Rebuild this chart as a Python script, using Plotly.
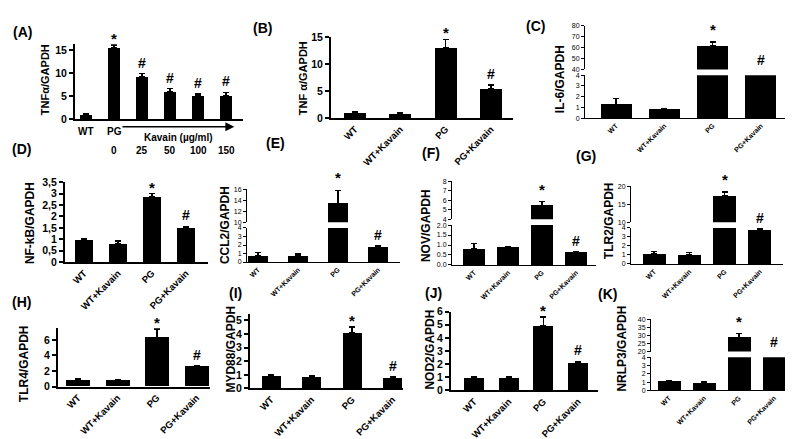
import plotly.graph_objects as go

W, H = 793, 439
FONT = "Arial, 'Liberation Sans', sans-serif"

# ---------------- data ----------------
A_labels = ["WT", "PG", "", "", "", ""]
A_doses = ["", "0", "25", "50", "100", "150"]
A_values = [0.8, 15.5, 9.1, 5.9, 5.0, 5.0]
A_errors = [0.3, 0.6, 0.8, 0.7, 0.4, 0.8]
A_marks = ["", "*", "#", "#", "#", "#"]

groups = ["WT", "WT+Kavain", "PG", "PG+Kavain"]
marks4 = ["", "", "*", "#"]

B_values = [0.9, 0.7, 13.0, 5.4]
B_errors = [0.2, 0.2, 1.6, 0.7]
C_values = [1.3, 0.8, 62.0, 20.0]
C_errors = [0.5, 0.1, 3.0, 1.0]
D_values = [0.95, 0.8, 2.85, 1.5]
D_errors = [0.07, 0.12, 0.15, 0.07]
E_values = [0.75, 0.7, 13.4, 1.8]
E_errors = [0.4, 0.25, 2.4, 0.1]
F_values = [0.82, 0.88, 5.45, 0.65]
F_errors = [0.25, 0.03, 0.4, 0.0]
G_values = [1.1, 1.0, 17.3, 3.8]
G_errors = [0.3, 0.25, 1.1, 0.1]
H_values = [0.8, 0.8, 6.3, 2.6]
H_errors = [0.2, 0.1, 1.1, 0.1]
I_values = [0.95, 0.85, 4.1, 0.8]
I_errors = [0.08, 0.05, 0.4, 0.05]
J_values = [0.95, 0.97, 4.9, 2.15]
J_errors = [0.08, 0.05, 0.7, 0.07]
K_values = [1.05, 0.9, 28.5, 10.0]
K_errors = [0.1, 0.2, 2.5, 0.5]

D_ticks = [0, 0.5, 1, 1.5, 2, 2.5, 3, 3.5]
D_ticktext = ["0", "0,5", "1", "1,5", "2", "2,5", "3", "3,5"]
F_low_ticks = [0, 0.5, 1.0, 1.5, 2.0]
F_low_text = ["0.0", "0.5", "1.0", "1.5", "2.0"]

fig = go.Figure()
layout = {}
ann = []
count = [0]


def fx(p):
    return p / W


def fy(p):
    return 1 - p / H


def ids():
    count[0] += 1
    k = count[0]
    s = "" if k == 1 else str(k)
    return "x" + s, "y" + s, "xaxis" + s, "yaxis" + s


def panel(labels, vals, errs, marks, xl, xr, c0, step, barw, segs, style,
          title, title_x, title_y, show_cats=True):
    excel = style == "excel"
    lw = 2 if excel else 1
    tfont = dict(family=FONT, size=10.5 if excel else 7, color="black",
                 weight=700 if excel else 400)
    cfont = dict(family=FONT, size=9.5 if excel else 7, color="black", weight=700)
    idx = list(range(len(vals)))
    axes = []
    for si, seg in enumerate(segs):
        xa, ya, xk, yk = ids()
        axes.append((xa, ya, seg))
        lower = si == 0
        layout[xk] = dict(
            domain=[fx(xl), fx(xr)],
            range=[(xl - c0) / step, (xr - c0) / step],
            anchor=ya, showgrid=False, zeroline=False,
            showline=lower, linecolor="black", linewidth=lw,
            ticks="", tickvals=idx if (lower and show_cats) else [],
            ticktext=labels if (lower and show_cats) else [],
            tickangle=-45, tickfont=cfont,
            showticklabels=lower and show_cats,
        )
        layout[yk] = dict(
            domain=[fy(seg["yb"]), fy(seg["yt"])],
            range=seg["range"], anchor=xa,
            showgrid=False, zeroline=False,
            showline=True, linecolor="black", linewidth=lw,
            ticks="outside", ticklen=4 if excel else 3,
            tickwidth=lw, tickcolor="black",
            tickvals=seg["tickvals"], ticktext=seg.get("ticktext"),
            tickfont=tfont,
        )
        fig.add_trace(go.Bar(
            x=idx, y=vals, width=barw / step,
            marker=dict(color="black", line=dict(width=0)),
            error_y=dict(type="data", array=errs, arrayminus=[0] * len(errs),
                         symmetric=False, color="black",
                         thickness=1.5 if excel else 1.2, width=3),
            xaxis=xa, yaxis=ya, hoverinfo="skip",
        ))
    # significance marks
    for i, (v, e, m) in enumerate(zip(vals, errs, marks)):
        if not m:
            continue
        top = v + e
        xa, ya, seg = axes[0]
        ypos = min(top, seg["range"][1])
        shift = 1
        for (xa2, ya2, seg2) in axes[1:]:
            if top >= seg2["range"][0]:
                xa, ya = xa2, ya2
                ypos = min(top, seg2["range"][1])
        if ya == axes[0][1] and top > axes[0][2]["range"][1]:
            shift = 5
        size = 15 if m == "*" else 14
        if m == "*":
            shift -= 5
            if len(axes) > 1:
                shift += 6
        ann.append(dict(x=i, y=ypos, xref=xa, yref=ya, text="<b>%s</b>" % m,
                        showarrow=False, xanchor="center", yanchor="bottom", yshift=shift,
                        font=dict(family=FONT, size=size, color="black")))
    ann.append(dict(x=fx(title_x), y=fy(title_y), xref="paper", yref="paper",
                    text="<b>%s</b>" % title, textangle=-90, showarrow=False,
                    xanchor="center", yanchor="middle",
                    font=dict(family=FONT, size=11 if title.startswith("TNF") else 12,
                              color="black")))
    return axes


# Panel A
axA = panel(A_labels, A_values, A_errors, A_marks, 67, 235, 78, 28, 12,
            [dict(yt=31, yb=108, range=[0, 16.3], tickvals=[0, 5, 10, 15])],
            "excel", "TNFα/GAPDH", 37, 68, show_cats=False)
xaA = axA[0][0]
afont = dict(family=FONT, size=10, color="black")
for i, lab in enumerate(A_labels):
    if lab:
        ann.append(dict(x=i, y=fy(121), xref=xaA, yref="paper", text="<b>%s</b>" % lab,
                        showarrow=False, xanchor="center", yanchor="middle", font=afont))
for i, d in enumerate(A_doses):
    if d:
        ann.append(dict(x=i, y=fy(140), xref=xaA, yref="paper", text="<b>%s</b>" % d,
                        showarrow=False, xanchor="center", yanchor="middle", font=afont))
ann.append(dict(x=(1 + len(A_doses) - 1) / 2 + 0.3, y=fy(127), xref=xaA, yref="paper",
                text="<b>Kavain (µg/ml)</b>", showarrow=False,
                xanchor="center", yanchor="middle", font=afont))
ann.append(dict(x=len(A_doses) - 1 + 0.3, y=fy(116), xref=xaA, yref="paper",
                ax=1.25, ay=0, axref=xaA, ayref="pixel", text="", showarrow=True,
                arrowhead=2, arrowsize=1.2, arrowwidth=1.5, arrowcolor="black"))

# Panel B
panel(groups, B_values, B_errors, marks4, 323, 505, 347, 45.3, 22,
      [dict(yt=24, yb=107, range=[0, 15], tickvals=[0, 5, 10, 15])],
      "excel", "TNF α/GAPDH", 295, 66)

# Panel C
panel(groups, C_values, C_errors, marks4, 577, 787, 608, 48.3, 31,
      [dict(yt=63, yb=107, range=[0, 4], tickvals=[0, 1, 2, 3, 4]),
       dict(yt=12, yb=57, range=[40, 80], tickvals=[40, 50, 60, 70, 80])],
      "prism", "IL-6/GAPDH", 552, 67)

# Panel D
panel(groups, D_values, D_errors, marks4, 57, 200, 76, 34, 18,
      [dict(yt=173, yb=255, range=[0, 3.5], tickvals=D_ticks, ticktext=D_ticktext)],
      "excel", "NF-kB/GAPDH", 22, 215)

# Panel E
panel(groups, E_values, E_errors, marks4, 239, 392, 250, 40, 20,
      [dict(yt=220, yb=255, range=[0, 4], tickvals=[0, 1, 2, 3, 4]),
       dict(yt=180, yb=214, range=[10, 16], tickvals=[10, 12, 14, 16])],
      "prism", "CCL2/GAPDH", 217, 217)

# Panel F
panel(groups, F_values, F_errors, marks4, 444, 588, 466, 34, 22,
      [dict(yt=217, yb=258, range=[0, 2], tickvals=F_low_ticks, ticktext=F_low_text),
       dict(yt=172, yb=211, range=[4, 8], tickvals=[4, 5, 6, 7, 8])],
      "prism", "NOV/GAPDH", 418, 218)

# Panel G
panel(groups, G_values, G_errors, marks4, 623, 775, 646, 35.3, 23,
      [dict(yt=220, yb=257, range=[0, 4], tickvals=[0, 1, 2, 3, 4]),
       dict(yt=177, yb=214, range=[10, 20], tickvals=[10, 15, 20])],
      "prism", "TLR2/GAPDH", 601, 213)

# Panel H
panel(groups, H_values, H_errors, marks4, 50, 202, 70, 39.5, 24,
      [dict(yt=323, yb=383, range=[0, 7.5], tickvals=[0, 2, 4, 6])],
      "excel", "TLR4/GAPDH", 16, 360)

# Panel I
panel(groups, I_values, I_errors, marks4, 242, 395, 263, 40.5, 19,
      [dict(yt=308, yb=385, range=[0, 5.5], tickvals=[0, 1, 2, 3, 4, 5])],
      "excel", "MYD88/GAPDH", 223, 345)

# Panel J
panel(groups, J_values, J_errors, marks4, 443, 590, 466, 34.7, 20,
      [dict(yt=306, yb=387, range=[0, 6], tickvals=[0, 1, 2, 3, 4, 5, 6])],
      "excel", "NOD2/GAPDH", 422, 345)

# Panel K
panel(groups, K_values, K_errors, marks4, 643, 788, 661, 35, 23,
      [dict(yt=353, yb=387, range=[0, 4], tickvals=[0, 1, 2, 3, 4]),
       dict(yt=314, yb=347, range=[20, 40], tickvals=[20, 25, 30, 35, 40])],
      "prism", "NRLP3/GAPDH", 614, 344)

# panel letters
letters = [("(A)", 14, 19), ("(B)", 254, 14), ("(C)", 527, 12),
           ("(D)", 13, 139), ("(E)", 267, 133), ("(F)", 423, 143), ("(G)", 578, 146),
           ("(H)", 13, 296), ("(I)", 227, 287), ("(J)", 425, 287), ("(K)", 599, 288)]
for t, x, y in letters:
    ann.append(dict(x=fx(x), y=fy(y), xref="paper", yref="paper", text="<b>%s</b>" % t,
                    showarrow=False, xanchor="center", yanchor="middle",
                    font=dict(family=FONT, size=14, color="black")))

fig.update_layout(
    width=W, height=H, margin=dict(l=0, r=0, t=0, b=0),
    paper_bgcolor="white", plot_bgcolor="white", showlegend=False,
    bargap=0, annotations=ann, **layout,
)
fig.write_html("out.html")
